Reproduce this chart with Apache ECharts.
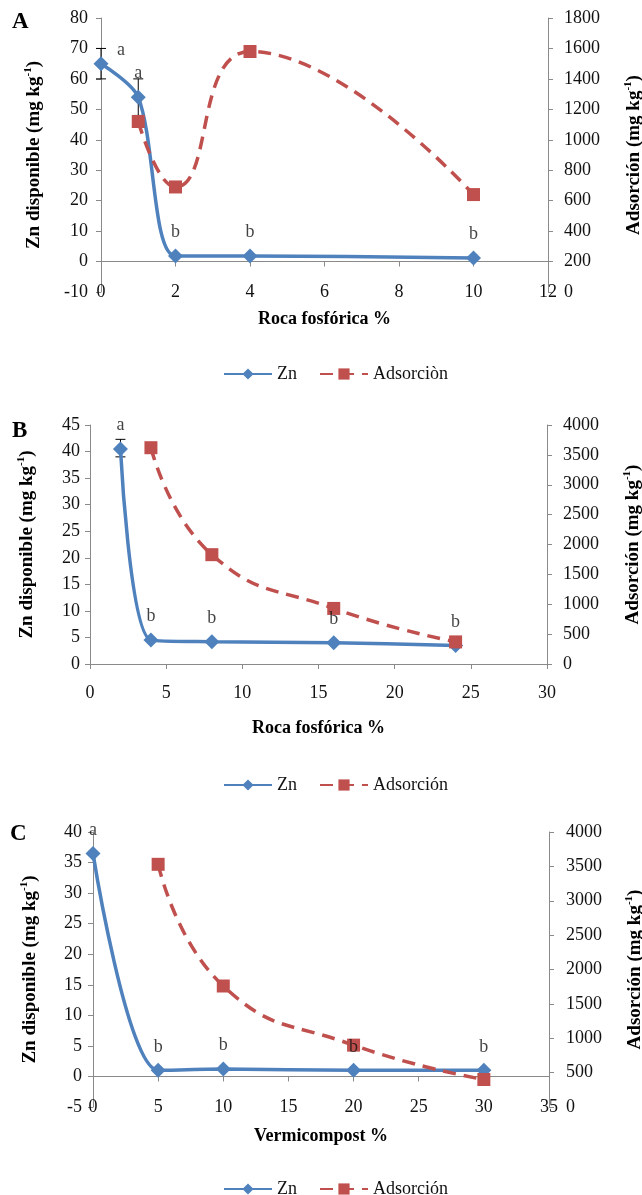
<!DOCTYPE html>
<html><head><meta charset="utf-8">
<script src="https://cdn.jsdelivr.net/npm/echarts@6/dist/echarts.min.js"></script>
<style>html,body{margin:0;padding:0;background:#fff}#c{width:642px;height:1195px}</style>
</head><body><div id="c"></div>
<script>
// ---------- Panel A ----------
const aX = [0, 1, 2, 4, 10];
const aZn = [65, 54, 1.8, 1.8, 1.2];
const aZnErr = [[0, 60, 70], [1, 48, 60]];
const aLetters = ['a', 'a', 'b', 'b', 'b'];
const aAdsX = [1, 2, 4, 10];
const aAds = [1120, 690, 1580, 640];
// ---------- Panel B ----------
const bX = [2, 4, 8, 16, 24];
const bZn = [40.5, 4.5, 4.2, 4.0, 3.5];
const bZnErr = [[2, 39, 42.3]];
const bLetters = ['a', 'b', 'b', 'b', 'b'];
const bAdsX = [4, 8, 16, 24];
const bAds = [3620, 1830, 930, 370];
// ---------- Panel C ----------
const cX = [0, 5, 10, 20, 30];
const cZn = [36.5, 1.0, 1.2, 1.0, 1.0];
const cZnErr = [];
const cLetters = ['a', 'b', 'b', 'b', 'b'];
const cAdsX = [5, 10, 20, 30];
const cAds = [3530, 1760, 900, 400];
// ---------- Texts ----------
const panelLetters = ['A', 'B', 'C'];
const xNames = ['Roca fosfórica %', 'Roca fosfórica %', 'Vermicompost %'];
const yLeftName = 'Zn disponible (mg kg{sup|-1})';
const yRightName = 'Adsorción (mg kg{sup|-1})';
const znName = 'Zn';
const adsNames = ['Adsorciòn', 'Adsorción', 'Adsorción'];

const FONT = 'Liberation Serif';
const BLUE = '#4F81BD';
const RED = '#C0504D';
const AXC = '#8a8a8a';

const zip = (xs, ys) => xs.map((x, i) => [x, ys[i]]);

const nameStyle = {
  fontFamily: FONT, fontWeight: 'bold', fontSize: 19, color: '#000',
  rich: { sup: { fontFamily: FONT, fontWeight: 'bold', fontSize: 11, color: '#000', verticalAlign: 'top', lineHeight: 22 } }
};
const tickLabel = { fontFamily: FONT, fontSize: 18, color: '#111', formatter: v => String(v) };

function errSeries(data, xi, yi) {
  return {
    type: 'custom', xAxisIndex: xi, yAxisIndex: yi, z: 1, data: data,
    encode: { x: 0, y: [1, 2] },
    renderItem: (params, api) => {
      const x = api.value(0), lo = api.value(1), hi = api.value(2);
      const p1 = api.coord([x, lo]), p2 = api.coord([x, hi]);
      const w = 5, st = { stroke: '#000', lineWidth: 1 };
      return { type: 'group', children: [
        { type: 'line', shape: { x1: p1[0], y1: p1[1], x2: p2[0], y2: p2[1] }, style: st },
        { type: 'line', shape: { x1: p1[0] - w, y1: p1[1], x2: p1[0] + w, y2: p1[1] }, style: st },
        { type: 'line', shape: { x1: p2[0] - w, y1: p2[1], x2: p2[0] + w, y2: p2[1] }, style: st }
      ] };
    }
  };
}

function znSeries(xs, ys, xi, yi) {
  return {
    name: znName, type: 'line', xAxisIndex: xi, yAxisIndex: yi, z: 2,
    data: zip(xs, ys), smooth: 0.3,
    symbol: 'diamond', symbolSize: 15,
    lineStyle: { color: BLUE, width: 3.5 }, itemStyle: { color: BLUE }
  };
}
function adsSeries(name, xs, ys, xi, yi) {
  return {
    name: name, type: 'line', xAxisIndex: xi, yAxisIndex: yi, z: 3,
    data: zip(xs, ys), smooth: 0.5,
    symbol: 'rect', symbolSize: 13,
    lineStyle: { color: RED, width: 3.5, type: [13, 8] }, itemStyle: { color: RED }
  };
}
function letterSeries(xs, ys, letters, xi, yi, special) {
  return {
    type: 'scatter', xAxisIndex: xi, yAxisIndex: yi, z: 10, silent: true,
    symbolSize: 1, itemStyle: { color: 'rgba(0,0,0,0)' },
    data: xs.map((x, i) => {
      const d = { value: [x, ys[i]] };
      if (special && special[i]) d.label = { offset: special[i] };
      return d;
    }),
    label: {
      show: true, position: 'top', distance: 14,
      formatter: p => letters[p.dataIndex],
      fontFamily: FONT, fontSize: 18, color: '#111'
    }
  };
}

function leftY(grid, min, max, interval, margin, gap) {
  return {
    type: 'value', gridIndex: grid, position: 'left', min, max, interval,
    axisLine: { show: true, onZero: false, lineStyle: { color: AXC } },
    axisTick: { show: true, length: 5, lineStyle: { color: AXC } },
    splitLine: { show: false },
    axisLabel: Object.assign({ margin: margin }, tickLabel),
    name: yLeftName, nameLocation: 'middle', nameRotate: 90, nameGap: gap,
    nameTextStyle: nameStyle
  };
}
function rightY(grid, min, max, interval, margin, gap) {
  return {
    type: 'value', gridIndex: grid, position: 'right', min, max, interval,
    axisLine: { show: true, onZero: false, lineStyle: { color: AXC } },
    axisTick: { show: true, length: 5, lineStyle: { color: AXC } },
    splitLine: { show: false },
    axisLabel: Object.assign({ margin: margin }, tickLabel),
    name: yRightName, nameLocation: 'middle', nameRotate: 90, nameGap: gap,
    nameTextStyle: nameStyle
  };
}
function labelX(grid, min, max, interval, margin, name, gap) {
  return {
    type: 'value', gridIndex: grid, position: 'bottom', min, max, interval,
    axisLine: { show: false, onZero: false },
    axisTick: { show: false }, splitLine: { show: false },
    axisLabel: Object.assign({ margin: margin, verticalAlign: 'middle' }, tickLabel),
    name: name, nameLocation: 'middle', nameGap: gap,
    nameTextStyle: { fontFamily: FONT, fontWeight: 'bold', fontSize: 18, color: '#000' }
  };
}
function zeroLineX(grid, min, max, interval, yIdx) {
  return {
    type: 'value', gridIndex: grid, position: 'top', min, max, interval,
    axisLine: { show: true, onZero: true, onZeroAxisIndex: yIdx, lineStyle: { color: AXC } },
    axisTick: { show: true, inside: true, length: 5, lineStyle: { color: AXC } },
    axisLabel: { show: false }, splitLine: { show: false }
  };
}

const legendBase = {
  left: 218, itemWidth: 48, itemHeight: 14, itemGap: 22,
  textStyle: { fontFamily: FONT, fontSize: 18, color: '#111' }
};

const option = {
  animation: false,
  backgroundColor: '#fff',
  graphic: panelLetters.map((t, i) => ({
    type: 'text', left: [12, 12, 10][i], top: [11, 420, 823][i],
    style: { text: t, font: 'bold 23px "Liberation Serif"', fill: '#000' }
  })),
  grid: [
    { left: 101, right: 94, top: 18, height: 274, outerBoundsMode: 'none', containLabel: false },
    { left: 90, right: 95, top: 425, height: 239, outerBoundsMode: 'none', containLabel: false },
    { left: 93, right: 93, top: 832, height: 275, outerBoundsMode: 'none', containLabel: false }
  ],
  xAxis: [
    labelX(0, 0, 12, 2, 0, xNames[0], 18),
    zeroLineX(0, 0, 12, 2, 0),
    Object.assign(labelX(1, 0, 30, 5, 29, xNames[1], 55), {
      axisLine: { show: true, onZero: false, lineStyle: { color: AXC } },
      axisTick: { show: true, length: 5, lineStyle: { color: AXC } }
    }),
    labelX(2, 0, 35, 5, 0, xNames[2], 20),
    zeroLineX(2, 0, 35, 5, 4)
  ],
  yAxis: [
    leftY(0, -10, 80, 10, 13, 56),
    rightY(0, 0, 1800, 200, 16, 75),
    leftY(1, 0, 45, 5, 10, 52),
    rightY(1, 0, 4000, 500, 16, 75),
    leftY(2, -5, 40, 5, 11, 52),
    rightY(2, 0, 4000, 500, 17, 75)
  ],
  legend: [
    Object.assign({ top: 360, data: [znName, adsNames[0]] }, legendBase),
    Object.assign({ top: 771, data: [znName, adsNames[1]] }, legendBase),
    Object.assign({ top: 1175, data: [znName, adsNames[2]] }, legendBase)
  ],
  series: [
    errSeries(aZnErr, 0, 0),
    znSeries(aX, aZn, 0, 0),
    adsSeries(adsNames[0], aAdsX, aAds, 0, 1),
    letterSeries(aX, aZn, aLetters, 0, 0, { 0: [20, 10] }),

    errSeries(bZnErr, 2, 2),
    znSeries(bX, bZn, 2, 2),
    adsSeries(adsNames[1], bAdsX, bAds, 2, 3),
    letterSeries(bX, bZn, bLetters, 2, 2),

    errSeries(cZnErr, 3, 4),
    znSeries(cX, cZn, 3, 4),
    adsSeries(adsNames[2], cAdsX, cAds, 3, 5),
    letterSeries(cX, cZn, cLetters, 3, 4)
  ]
};

const chart = echarts.init(document.getElementById('c'), null, { renderer: 'canvas' });
chart.setOption(option);
</script>
</body></html>
